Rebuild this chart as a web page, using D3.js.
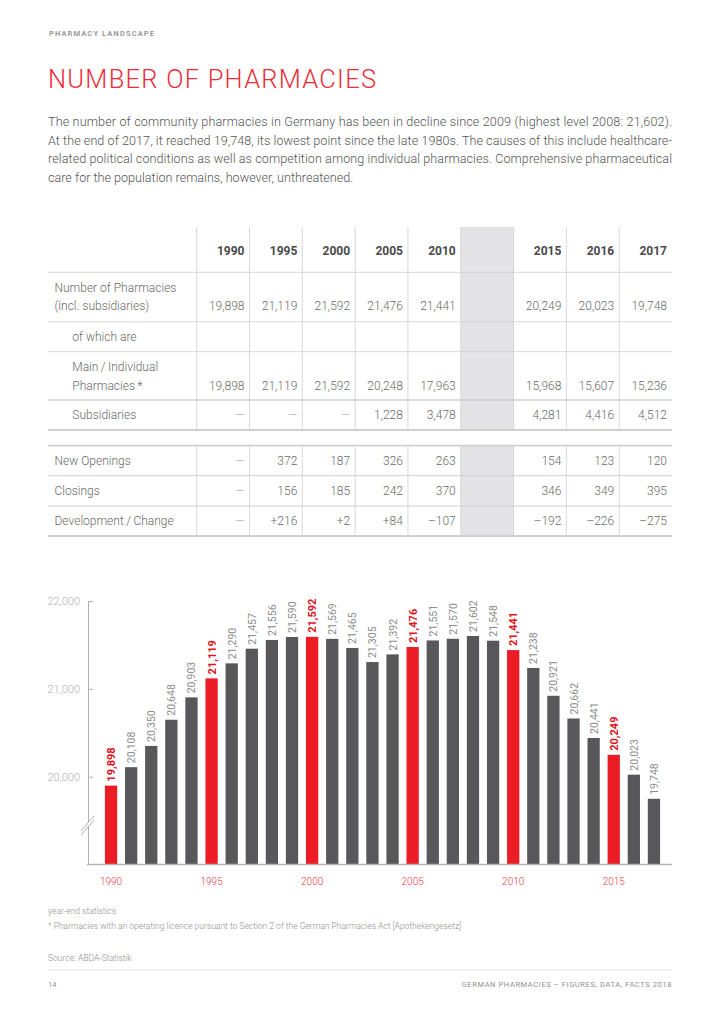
<!DOCTYPE html>
<html>
<head>
<meta charset="utf-8">
<script src="https://cdn.jsdelivr.net/npm/d3@7"></script>
<style>
  html, body { margin: 0; padding: 0; background: #fff; }
  svg { display: block; }
  text { font-family: Roboto, "Liberation Sans", sans-serif; }
</style>
</head>
<body>
<svg id="page" width="723" height="1024"></svg>
<script>
// ---------------- DATA ----------------
const years = [1990,1991,1992,1993,1994,1995,1996,1997,1998,1999,2000,2001,2002,2003,2004,2005,2006,2007,2008,2009,2010,2011,2012,2013,2014,2015,2016,2017];
const pharmacies = [19898,20108,20350,20648,20903,21119,21290,21457,21556,21590,21592,21569,21465,21305,21392,21476,21551,21570,21602,21548,21441,21238,20921,20662,20441,20249,20023,19748];
const highlightYears = [1990,1995,2000,2005,2010,2015];
const yTicks = [20000,21000,22000];
const xTickYears = [1990,1995,2000,2005,2010,2015];

const tableColumns = ["1990","1995","2000","2005","2010","gap","2015","2016","2017"];
const totalRow      = [19898,21119,21592,21476,21441,null,20249,20023,19748];
const mainRow       = [19898,21119,21592,20248,17963,null,15968,15607,15236];
const subsidiaryRow = [null,null,null,1228,3478,null,4281,4416,4512];
const openingsRow   = [null,372,187,326,263,null,154,123,120];
const closingsRow   = [null,156,185,242,370,null,346,349,395];
const changeRow     = [null,216,2,84,-107,null,-192,-226,-275];

const headerText = "PHARMACY LANDSCAPE";
const titleText = "NUMBER OF PHARMACIES";
const paragraphLines = [
  "The number of community pharmacies in Germany has been in decline since 2009 (highest level 2008: 21,602).",
  "At the end of 2017, it reached 19,748, its lowest point since the late 1980s. The causes of this include healthcare-",
  "related political conditions as well as competition among individual pharmacies. Comprehensive pharmaceutical",
  "care for the population remains, however, unthreatened."
];
const footnotes = [
  "year-end statistics",
  "* Pharmacies with an operating licence pursuant to Section 2 of the German Pharmacies Act [Apothekengesetz]",
  "Source: ABDA-Statistik"
];
const pageNumber = "14";
const footerRight = "GERMAN PHARMACIES – FIGURES, DATA, FACTS 2018";

// ---------------- STYLE ----------------
const RED = "#ec1c26", DARK = "#58585a", TITLE_RED = "#ee2d3b";
const svg = d3.select("#page");
svg.append("rect").attr("width", 723).attr("height", 1024).attr("fill", "#fff");

// header
svg.append("text").attr("x", 49).attr("y", 36).text(headerText)
  .attr("font-size", 7.5).attr("font-weight", 700).attr("fill", "#9a9a9a")
  .attr("textLength", 105).attr("lengthAdjust", "spacing");

// title
svg.append("text").attr("x", 48).attr("y", 88).text(titleText)
  .attr("font-size", 25.5).attr("font-weight", 300).attr("fill", TITLE_RED)
  .attr("textLength", 328).attr("lengthAdjust", "spacing");

// paragraph
paragraphLines.forEach((t, i) => {
  const tx = svg.append("text").attr("x", 48).attr("y", 126 + i * 18.5).text(t)
    .attr("font-size", 12.6).attr("font-weight", 300).attr("fill", "#555");
  if (i < paragraphLines.length - 1) tx.attr("textLength", 624).attr("lengthAdjust", "spacing");
});

// ---------------- TABLE ----------------
const tbl = svg.append("g");
const colScale = d3.scaleBand().domain(tableColumns).range([196.7, 672]);
const gapX = colScale("gap"), gapW = colScale.bandwidth();
// gray gap column
tbl.append("rect").attr("x", gapX).attr("y", 227).attr("width", gapW).attr("height", 203).attr("fill", "#e4e4e7");
tbl.append("rect").attr("x", gapX).attr("y", 446).attr("width", gapW).attr("height", 90).attr("fill", "#e4e4e7");

// vertical lines
const vlines = [colScale("1990")].concat(tableColumns.slice(1).map(c => colScale(c)));
vlines.forEach(x => {
  tbl.append("line").attr("x1", x).attr("x2", x).attr("y1", 227).attr("y2", 430).attr("stroke", "#cfcfcf").attr("stroke-width", 0.8);
  tbl.append("line").attr("x1", x).attr("x2", x).attr("y1", 446).attr("y2", 536).attr("stroke", "#cfcfcf").attr("stroke-width", 0.8);
});
// horizontal lines
[[272.3,0.8],[321.7,0.8],[351.7,0.8],[400,1.6],[430,1.8],[445.7,1.8],[475.7,1],[506,1],[536,1.8]].forEach(([y, w]) => {
  tbl.append("line").attr("x1", 48).attr("x2", 672).attr("y1", y).attr("y2", y).attr("stroke", "#d0d0d0").attr("stroke-width", w);
});

// header years
tableColumns.forEach(c => {
  if (c === "gap") return;
  tbl.append("text").attr("x", colScale(c) + gapW - 5).attr("y", 255).attr("text-anchor", "end")
    .attr("font-size", 12).attr("font-weight", 700).attr("fill", "#4a4a4a").text(c);
});

const fmt = d3.format(",");
const fmtChange = v => v > 0 ? "+" + v : (v < 0 ? "\u2013" + Math.abs(v) : String(v));
const rows = [
  {lines: ["Number of Pharmacies", "(incl. subsidiaries)"], indent: 0, y: 291.5, vals: totalRow, f: fmt},
  {lines: ["of which are"], indent: 1, y: 341, vals: null},
  {lines: ["Main\u2009/\u2009Individual", "Pharmacies\u2009*"], indent: 1, y: 371, vals: mainRow, f: fmt},
  {lines: ["Subsidiaries"], indent: 1, y: 419, vals: subsidiaryRow, f: fmt},
  {lines: ["New Openings"], indent: 0, y: 465, vals: openingsRow, f: fmt},
  {lines: ["Closings"], indent: 0, y: 495, vals: closingsRow, f: fmt},
  {lines: ["Development\u2009/\u2009Change"], indent: 0, y: 525, vals: changeRow, f: fmtChange}
];
rows.forEach(r => {
  r.lines.forEach((l, i) => {
    tbl.append("text").attr("x", r.indent ? 72.3 : 54.5).attr("y", r.y + i * 18.5)
      .attr("font-size", 12).attr("font-weight", 300).attr("fill", "#6a6a6a").text(l);
  });
  if (!r.vals) return;
  const vy = r.y + (r.lines.length - 1) * 18.5;
  r.vals.forEach((v, i) => {
    const c = tableColumns[i];
    if (c === "gap") return;
    const isNull = v === null;
    tbl.append("text").attr("x", colScale(c) + gapW - 5).attr("y", vy).attr("text-anchor", "end")
      .attr("font-size", 12).attr("font-weight", 300).attr("fill", isNull ? "#aaa" : "#6a6a6a")
      .text(isNull ? "\u2014" : r.f(v));
  });
});

// ---------------- CHART ----------------
const chart = svg.append("g");
const x = d3.scaleBand().domain(years).range([101, 664]).paddingInner(0.39).paddingOuter(0.195);
const y = d3.scaleLinear().domain([19000, 22000]).range([864.5, 601]);

// y axis
const yAxis = chart.append("g").attr("transform", "translate(88,0)")
  .call(d3.axisLeft(y).tickValues(yTicks).tickFormat(d3.format(",")).tickSize(-5).tickSizeOuter(0).tickPadding(8));
yAxis.select(".domain").attr("stroke", "#b0b0b0").attr("stroke-width", 1);
yAxis.selectAll(".tick line").attr("stroke", "#b0b0b0");
yAxis.selectAll(".tick text").attr("font-size", 11).attr("font-weight", 300).attr("fill", "#b0b0b0")
  .attr("font-family", "Roboto, 'Liberation Sans', sans-serif");

// bars
chart.selectAll("rect.bar").data(years).join("rect").attr("class", "bar")
  .attr("x", d => x(d)).attr("width", x.bandwidth())
  .attr("y", (d, i) => y(pharmacies[i])).attr("height", (d, i) => y.range()[0] - y(pharmacies[i]))
  .attr("fill", d => highlightYears.includes(d) ? RED : DARK);

// value labels
chart.selectAll("text.val").data(years).join("text").attr("class", "val")
  .attr("transform", (d, i) => `translate(${x(d) + x.bandwidth() / 2 + 4},${y(pharmacies[i]) - 4}) rotate(-90)`)
  .attr("font-size", d => highlightYears.includes(d) ? 11 : 10.5)
  .attr("font-weight", d => highlightYears.includes(d) ? 700 : 400)
  .attr("fill", d => highlightYears.includes(d) ? "#e3101c" : "#8c8c8c")
  .text((d, i) => fmt(pharmacies[i]));

// baseline
chart.append("line").attr("x1", 87).attr("x2", 672).attr("y1", 864.5).attr("y2", 864.5)
  .attr("stroke", "#b3b3b3").attr("stroke-width", 1.5);

// axis break
const brk = chart.append("g");
brk.append("polygon").attr("points", "81,831 93,817 93,821 81,835").attr("fill", "#fff");
brk.append("line").attr("x1", 81).attr("y1", 831).attr("x2", 94).attr("y2", 816).attr("stroke", "#a8a8a8").attr("stroke-width", 0.9);
brk.append("line").attr("x1", 81).attr("y1", 835).attr("x2", 94).attr("y2", 820).attr("stroke", "#a8a8a8").attr("stroke-width", 0.9);

// x axis labels
const xAxis = chart.append("g").attr("transform", "translate(0,864.5)")
  .call(d3.axisBottom(x).tickValues(xTickYears).tickSize(0).tickPadding(13.5));
xAxis.select(".domain").remove();
xAxis.selectAll(".tick text").attr("font-size", 10).attr("font-weight", 300).attr("fill", "#ea3a48")
  .attr("font-family", "Roboto, 'Liberation Sans', sans-serif");

// ---------------- FOOTER ----------------
const fy = [914, 929, 961];
footnotes.forEach((t, i) => {
  svg.append("text").attr("x", 48).attr("y", fy[i]).text(t)
    .attr("font-size", 8.5).attr("font-weight", 300).attr("fill", "#8f8f8f");
});
svg.append("line").attr("x1", 48).attr("x2", 672).attr("y1", 970).attr("y2", 970).attr("stroke", "#dcdcdc").attr("stroke-width", 0.8);
svg.append("text").attr("x", 48).attr("y", 987).text(pageNumber)
  .attr("font-size", 7.5).attr("fill", "#8f8f8f");
svg.append("text").attr("x", 672).attr("y", 987).attr("text-anchor", "end").text(footerRight)
  .attr("font-size", 7.5).attr("fill", "#8f8f8f").attr("letter-spacing", 0.6);
</script>
</body>
</html>
